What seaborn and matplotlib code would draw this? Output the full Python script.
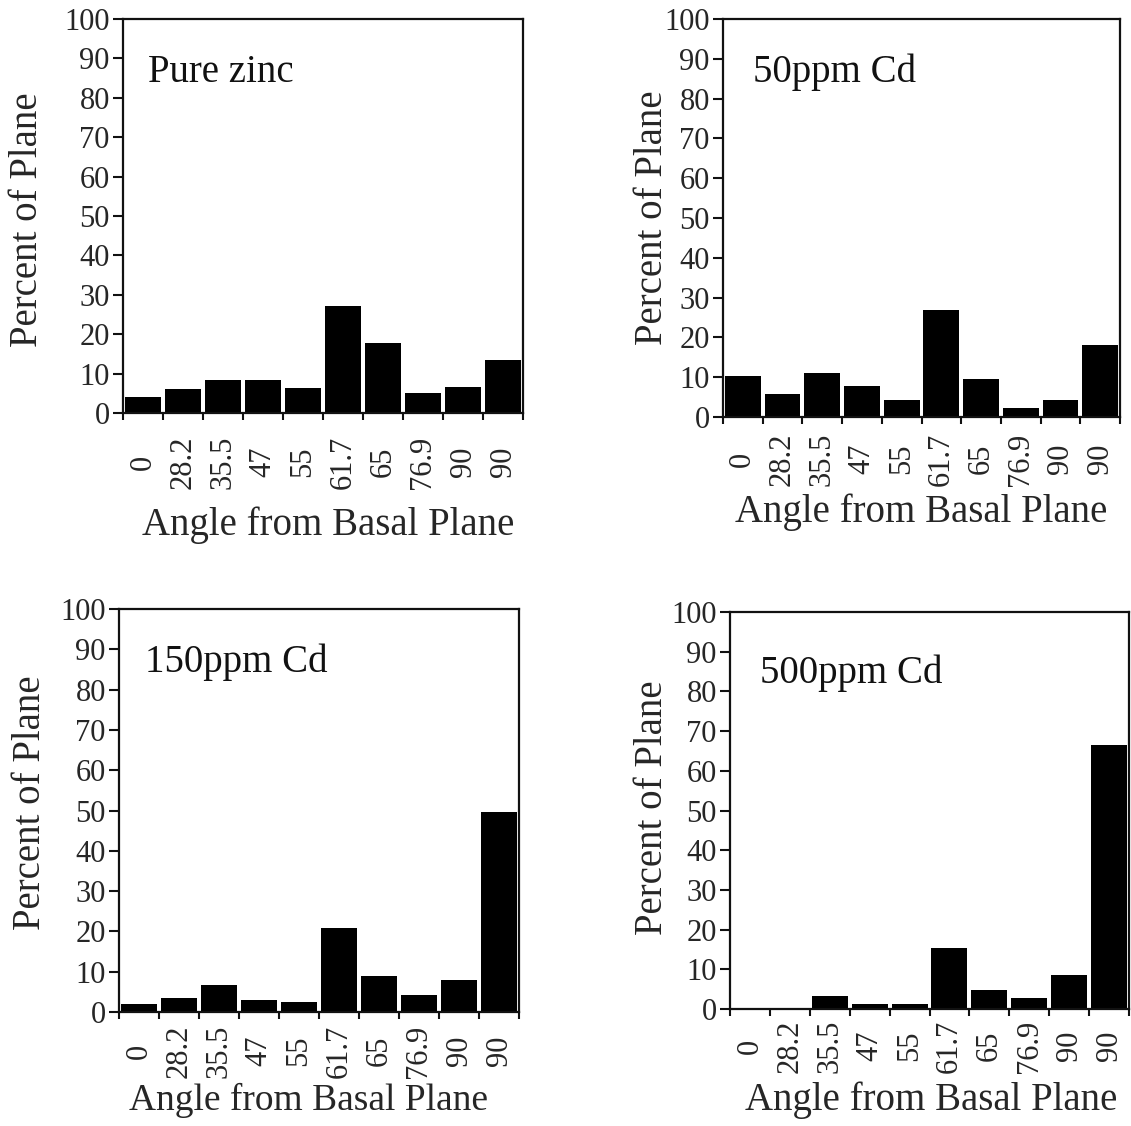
import matplotlib
matplotlib.use("Agg")
import matplotlib.pyplot as plt
import seaborn as sns
import pandas as pd
import numpy as np

angles = ["0", "28.2", "35.5", "47", "55", "61.7", "65", "76.9", "90", "90"]
pure_zinc = [4.0, 6.2, 8.3, 8.4, 6.3, 27.2, 17.7, 5.2, 6.5, 13.4]
cd_50 = [10.4, 5.8, 11.0, 7.9, 4.2, 27.0, 9.6, 2.2, 4.3, 18.1]
cd_150 = [2.0, 3.5, 6.6, 3.0, 2.6, 20.8, 9.0, 4.3, 8.0, 49.7]
cd_500 = [0.0, 0.0, 3.2, 1.3, 1.3, 15.3, 4.7, 2.7, 8.6, 66.5]
titles = ["Pure zinc", "50ppm Cd", "150ppm Cd", "500ppm Cd"]
series = [pure_zinc, cd_50, cd_150, cd_500]
y_ticks = list(range(0, 101, 10))

sns.set_theme(style="white")
plt.rcParams["font.family"] = ["Liberation Serif", "DejaVu Serif"]
plt.rcParams["text.color"] = "#111111"

W, H = 1131, 1126
fig = plt.figure(figsize=(W / 100, H / 100), dpi=100)

# axes boxes in pixels: left, top, right, bottom
boxes = [(123, 19, 523, 413), (723, 19, 1120, 417),
         (119, 609, 519, 1012), (730, 612, 1129, 1009)]
title_pos = [(0.062, 0.84), (0.076, 0.842), (0.065, 0.844), (0.075, 0.82)]
xtick_center_px = [49, 42, 39, 37]
xlabel_xy = [(0.512, -0.31), (0.499, -0.263), (0.473, -0.243), (0.505, -0.254)]
xlabel_size = [28, 28, 27, 28]
ylabel_xy = [(-0.193, 0.49), (-0.131, 0.50), (-0.175, 0.52), (-0.147, 0.506)]

for i, (vals, title) in enumerate(zip(series, titles)):
    l, t, r, b = boxes[i]
    ax = fig.add_axes([l / W, 1 - b / H, (r - l) / W, (b - t) / H])
    df = pd.DataFrame({"pos": list(range(len(angles))), "pct": vals})
    sns.barplot(data=df, x="pos", y="pct", color="black", width=0.9,
                saturation=1, ax=ax, edgecolor="none")
    ax.set_xlim(-0.5, len(angles) - 0.5)
    ax.set_ylim(0, 100)
    ax.set_yticks(y_ticks)
    ax.set_yticklabels([str(v) for v in y_ticks], fontsize=22)
    ax.set_xticks(range(len(angles)))
    ax.set_xticklabels(angles, rotation=90, fontsize=22, va="center")
    ax.set_xticks(np.arange(-0.5, len(angles), 1.0), minor=True)
    ax.tick_params(axis="x", which="major", length=0,
                   pad=xtick_center_px[i] * 0.72)
    ax.tick_params(axis="x", which="minor", length=5, width=1.5,
                   direction="out", bottom=True, color="#111111")
    ax.tick_params(axis="y", which="major", length=7.5, width=1.5,
                   direction="out", left=True, pad=2, color="#111111")
    for s in ax.spines.values():
        s.set_visible(True)
        s.set_linewidth(1.6)
        s.set_color("#111111")
    ax.set_xlabel("Angle from Basal Plane", fontsize=xlabel_size[i])
    ax.xaxis.label.set_va("baseline")
    ax.xaxis.set_label_coords(*xlabel_xy[i])
    ax.set_ylabel("Percent of Plane", fontsize=28)
    ax.yaxis.set_label_coords(*ylabel_xy[i])
    ax.text(title_pos[i][0], title_pos[i][1], title, transform=ax.transAxes,
            fontsize=28, ha="left", va="baseline")
    ax.grid(False)

fig.savefig("out.png", dpi=100)
